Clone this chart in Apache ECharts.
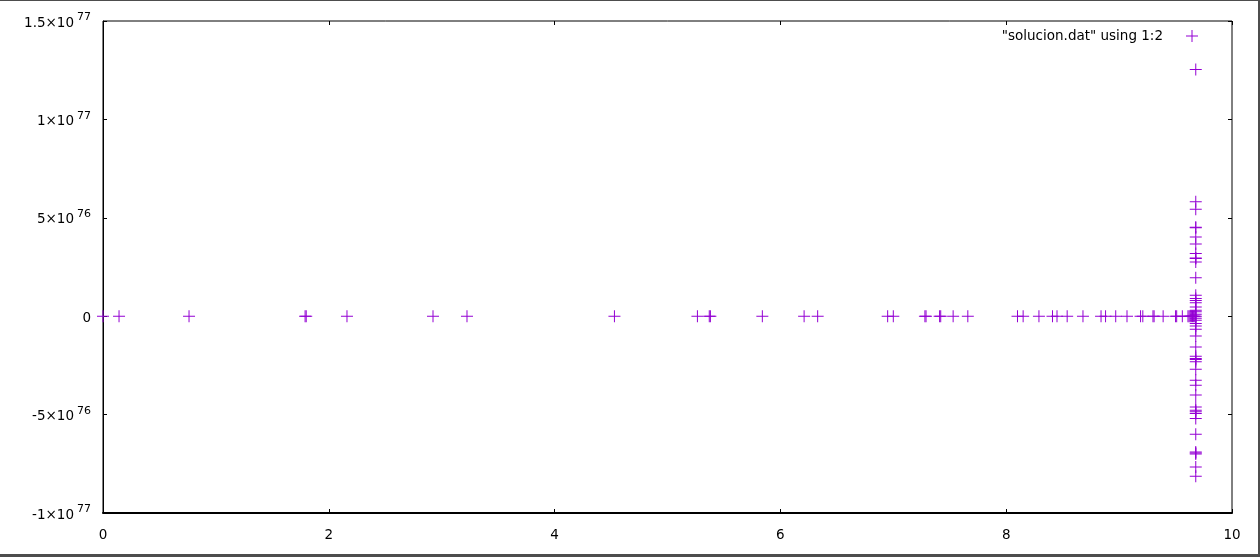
<!DOCTYPE html>
<html>
<head>
<meta charset="utf-8">
<script src="https://cdn.jsdelivr.net/npm/echarts@6/dist/echarts.min.js"></script>
<style>
  html, body { margin: 0; padding: 0; background: #fff; }
  #wrap { position: relative; width: 1260px; height: 557px; overflow: hidden; background: #fff; }
  #chart { position: absolute; left: 0; top: 0; width: 1260px; height: 557px; }
  .fr { position: absolute; background: #4d4d4d; }
</style>
</head>
<body>
<div id="wrap">
  <div id="chart"></div>
  <div class="fr" style="left:0;top:0;width:1260px;height:1px;"></div>
  <div class="fr" style="left:1258px;top:0;width:2px;height:557px;"></div>
  <div class="fr" style="left:0;top:554px;width:1260px;height:3px;"></div>
</div>
<script>
// Series name (legend)
const seriesName = '"solucion.dat" using 1:2';

// Points lying on y = 0 (x values)
const zeroLineX = [0, 0.142, 0.762, 1.79, 1.80, 2.161, 2.923, 3.224, 4.53,
  5.265, 5.37, 5.38, 5.84, 6.21, 6.33, 6.95, 7.0, 7.28, 7.29, 7.41, 7.42, 7.53, 7.66,
  8.10, 8.15, 8.29, 8.41, 8.45, 8.54, 8.68, 8.84, 8.88, 8.97, 9.07, 9.19, 9.21, 9.30,
  9.31, 9.39, 9.50, 9.51, 9.56, 9.61, 9.62, 9.63, 9.64, 9.65, 9.66, 9.67, 9.68];

// Vertical cluster at the end of the run
const clusterX = 9.679;
// y values in units of 1e76
const clusterY = [12.54, 5.81, 5.44, 4.52, 4.49, 4.03, 3.67, 3.19, 2.96, 2.93, 2.76,
  1.95, 1.07, 0.90, 0.80, 0.68, 0.47, 0.30, 0.22, 0.10, -0.10, -0.20, -0.37, -0.50,
  -0.66, -1.00, -1.56, -2.03, -2.15, -2.20, -2.32, -2.69, -3.25, -3.51, -4.01, -4.61,
  -4.78, -4.85, -4.94, -5.20, -6.00, -6.90, -6.95, -7.00, -7.66, -8.13];

// Axis definitions
const xTicks = [0, 2, 4, 6, 8, 10];
const yTickValues = [-10, -5, 0, 5, 10, 15];           // units of 1e76
const yTickLabels = [['-1×10', '77'], ['-5×10', '76'], ['0', ''], ['5×10', '76'], ['1×10', '77'], ['1.5×10', '77']];

const data = [];
zeroLineX.forEach(x => data.push([x, 0]));
clusterY.forEach(y => data.push([clusterX, y]));

const plusPath = 'path://M5.5,0h1v12h-1z M0,5.5h12v1h-12z';
const violet = '#9400d3';
const font = 'DejaVu Sans';
const fs = 13.5;

const chart = echarts.init(document.getElementById('chart'), null, { renderer: 'canvas' });

function yFmt(v) {
  const i = yTickValues.findIndex(t => Math.abs(t - v) < 1e-9);
  if (i < 0) return '';
  const [m, s] = yTickLabels[i];
  return s ? '{m|' + m + '}{s|' + s + '}' : '{m|' + m + '}';
}

const commonTick = { show: true, inside: true, length: 4, lineStyle: { color: '#000', width: 1 } };

chart.setOption({
  animation: false,
  backgroundColor: '#fff',
  textStyle: { fontFamily: font },
  grid: { left: 103, right: 28, top: 21, bottom: 44, show: true, borderColor: '#000', borderWidth: 1, backgroundColor: 'transparent' },
  legend: {
    show: true,
    right: 62,
    top: 29,
    padding: 0,
    align: 'right',
    itemWidth: 12,
    itemHeight: 12,
    icon: plusPath,
    data: [{ name: seriesName, icon: plusPath, itemStyle: { color: violet } }],
    textStyle: { fontFamily: font, fontSize: fs, color: '#000', padding: [0, 18, 0, 0] }
  },
  xAxis: [{
    type: 'value', min: 0, max: 10, interval: 2, position: 'bottom',
    axisLine: { show: true, onZero: false, lineStyle: { color: '#000', width: 2 } },
    axisTick: commonTick,
    splitLine: { show: false },
    axisLabel: { margin: 15, fontFamily: font, fontSize: fs, color: '#000',
      formatter: v => xTicks.includes(v) ? String(v) : '' }
  }, {
    type: 'value', min: 0, max: 10, interval: 2, position: 'top',
    axisLine: { show: false, onZero: false }, axisTick: commonTick, splitLine: { show: false }, axisLabel: { show: false }
  }],
  yAxis: [{
    type: 'value', min: -10, max: 15, interval: 5, position: 'left',
    axisLine: { show: true, onZero: false, lineStyle: { color: '#000', width: 1 } },
    axisTick: commonTick,
    splitLine: { show: false },
    axisLabel: {
      margin: 12, formatter: yFmt,
      rich: {
        m: { fontFamily: font, fontSize: fs, color: '#000', lineHeight: 18, verticalAlign: 'bottom' },
        s: { fontFamily: font, fontSize: 11, color: '#000', lineHeight: 18, verticalAlign: 'top', padding: [0, 0, 0, 3] }
      }
    }
  }, {
    type: 'value', min: -10, max: 15, interval: 5, position: 'right',
    axisLine: { show: false, onZero: false }, axisTick: commonTick, splitLine: { show: false }, axisLabel: { show: false }
  }],
  series: [{
    name: seriesName,
    type: 'scatter',
    xAxisIndex: 0, yAxisIndex: 0,
    symbol: plusPath,
    symbolSize: 12,
    itemStyle: { color: violet, opacity: 1 },
    emphasis: { disabled: true },
    data: data
  }]
});
</script>
</body>
</html>
